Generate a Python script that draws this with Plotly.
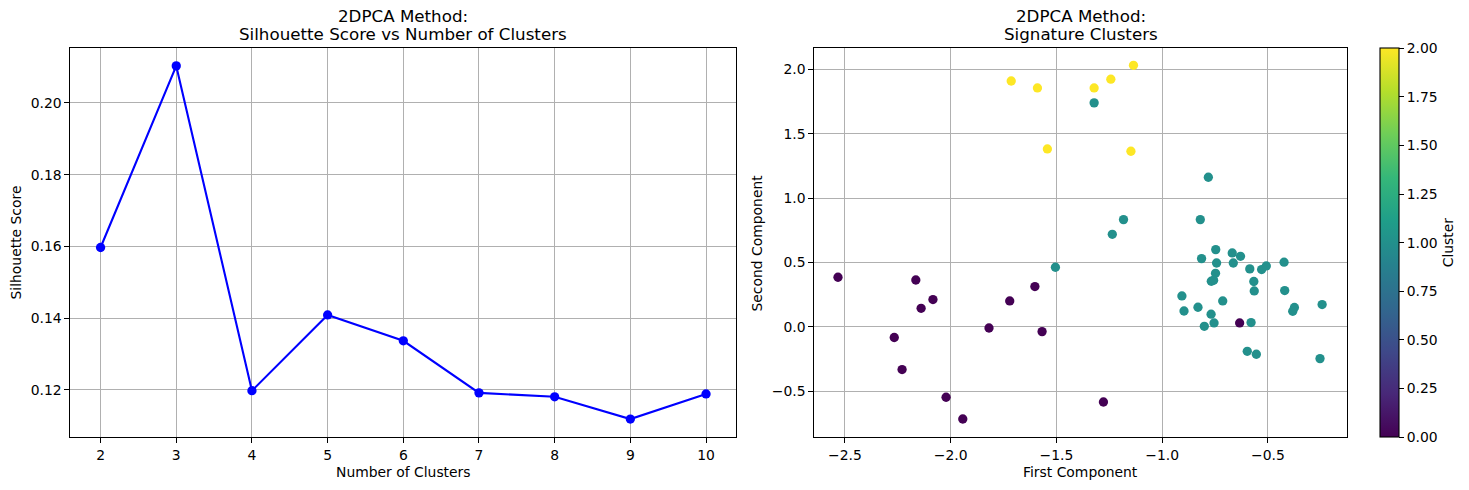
import plotly.graph_objects as go

# ---- Data ----
n_clusters = [2, 3, 4, 5, 6, 7, 8, 9, 10]
silhouette = [0.1597, 0.2103, 0.1198, 0.1409, 0.1337, 0.1192, 0.1181, 0.1119, 0.1189]

first_comp = [
    -1.714, -1.590, -1.543, -1.322, -1.243, -1.136, -1.148,
    -2.533, -2.165, -2.140, -2.084, -2.267, -2.230, -2.022, -1.943, -1.819, -1.721, -1.602, -1.568, -1.278, -0.634,
    -1.322, -1.183, -1.236, -1.505, -0.820, -0.814, -0.782, -0.747, -0.669, -0.630, -0.743, -0.664, -0.586, -0.530,
    -0.508, -0.424, -0.748, -0.768, -0.757, -0.567, -0.565, -0.421, -0.907, -0.714, -0.831, -0.897, -0.769, -0.755,
    -0.801, -0.580, -0.383, -0.375, -0.244, -0.598, -0.555, -0.254,
]
second_comp = [
    1.911, 1.857, 1.383, 1.857, 1.925, 2.033, 1.365,
    0.386, 0.365, 0.145, 0.213, -0.082, -0.331, -0.546, -0.715, -0.008, 0.202, 0.314, -0.036, -0.583, 0.031,
    1.741, 0.834, 0.720, 0.464, 0.834, 0.531, 1.163, 0.601, 0.575, 0.549, 0.497, 0.497, 0.451, 0.446,
    0.474, 0.503, 0.417, 0.355, 0.363, 0.353, 0.280, 0.283, 0.241, 0.202, 0.153, 0.124, 0.099, 0.031,
    0.005, 0.034, 0.122, 0.151, 0.174, -0.189, -0.212, -0.246,
]
cluster = [2] * 7 + [0] * 14 + [1] * 36

colorbar_ticks = [0, 0.25, 0.5, 0.75, 1.0, 1.25, 1.5, 1.75, 2.0]

# ---- Layout geometry (pixels) ----
W, H = 1469, 490
def px_x(p):
    return p / W
def px_y(p):
    return 1 - p / H

FONT = "DejaVu Sans"
TICK_FONT = dict(family=FONT, size=13.9, color="black")

fig = go.Figure()

fig.add_trace(go.Scatter(
    x=n_clusters, y=silhouette, mode="lines+markers",
    line=dict(color="blue", width=2.1),
    marker=dict(color="blue", size=9.3),
    xaxis="x", yaxis="y", showlegend=False, hoverinfo="skip",
))

fig.add_trace(go.Scatter(
    x=first_comp, y=second_comp, mode="markers",
    marker=dict(
        color=cluster, colorscale="Viridis", cmin=0, cmax=2, size=9.3,
        line=dict(width=0),
        showscale=True,
        colorbar=dict(
            x=px_x(1380.3), xanchor="left", xpad=0, ypad=0,
            y=px_y((48.3 + 437) / 2), yanchor="middle",
            len=(437 - 48.3) / H, lenmode="fraction",
            thickness=18.7, thicknessmode="pixels",
            outlinewidth=1.1, outlinecolor="black",
            ticks="outside", ticklen=4.9, tickwidth=1.1, tickcolor="black",
            tickvals=colorbar_ticks, tickformat=".2f",
            tickfont=TICK_FONT,
            title=dict(text="Cluster", side="right", font=dict(family=FONT, size=13.9, color="black")),
        ),
    ),
    xaxis="x2", yaxis="y2", showlegend=False, hoverinfo="skip",
))

axis_common = dict(
    showline=True, mirror=True, linecolor="black", linewidth=1.1,
    showgrid=True, gridcolor="#b0b0b0", gridwidth=1.1,
    ticks="outside", ticklen=4.9, tickwidth=1.1, tickcolor="black",
    tickfont=TICK_FONT, zeroline=False,
)

y_dom = [px_y(437), px_y(48.3)]

fig.update_layout(
    width=W, height=H,
    margin=dict(l=0, r=0, t=0, b=0),
    paper_bgcolor="white", plot_bgcolor="white",
    font=dict(family=FONT, color="black"),
    xaxis=dict(domain=[px_x(70.3), px_x(736.3)], range=[1.6, 10.4], dtick=1, tick0=0,
               anchor="y", **axis_common),
    yaxis=dict(domain=y_dom, range=[0.1069, 0.2152], dtick=0.02, tick0=0, tickformat=".2f",
               anchor="x", **axis_common),
    xaxis2=dict(domain=[px_x(814.3), px_x(1347.3)], range=[-2.645, -0.125], dtick=0.5, tick0=0,
                tickformat=".1f", anchor="y2", **axis_common),
    yaxis2=dict(domain=y_dom, range=[-0.855, 2.165], dtick=0.5, tick0=0, tickformat=".1f",
                anchor="x2", **axis_common),
)

LABEL_FONT = dict(family=FONT, size=13.9, color="black")
TITLE_FONT = dict(family=FONT, size=16.7, color="black")

cx_left = px_x((70.3 + 736.3) / 2)
cx_right = px_x((814.3 + 1347.3) / 2)

annotations = [
    dict(text="2DPCA Method:", x=cx_left, y=px_y(16.5), xanchor="center", yanchor="middle",
         font=TITLE_FONT),
    dict(text="Silhouette Score vs Number of Clusters", x=cx_left, y=px_y(34), xanchor="center",
         yanchor="middle", font=TITLE_FONT),
    dict(text="2DPCA Method:", x=cx_right, y=px_y(16.5), xanchor="center", yanchor="middle",
         font=TITLE_FONT),
    dict(text="Signature Clusters", x=cx_right, y=px_y(34), xanchor="center", yanchor="middle",
         font=TITLE_FONT),
    dict(text="Number of Clusters", x=cx_left, y=px_y(471.5),
         xanchor="center", yanchor="middle", font=LABEL_FONT),
    dict(text="First Component", x=cx_right, y=px_y(471.5),
         xanchor="center", yanchor="middle", font=LABEL_FONT),
    dict(text="Silhouette Score", x=px_x(15.5), y=px_y(243), textangle=-90,
         xanchor="center", yanchor="middle", font=LABEL_FONT),
    dict(text="Second Component", x=px_x(756.5), y=px_y(243), textangle=-90,
         xanchor="center", yanchor="middle", font=LABEL_FONT),
]
for a in annotations:
    a.update(xref="paper", yref="paper", showarrow=False)
fig.update_layout(annotations=annotations)

fig.write_html(
    "out.html",
    config={"displayModeBar": False},
    post_script="document.body.style.margin='0';document.body.style.overflow='hidden';",
)
